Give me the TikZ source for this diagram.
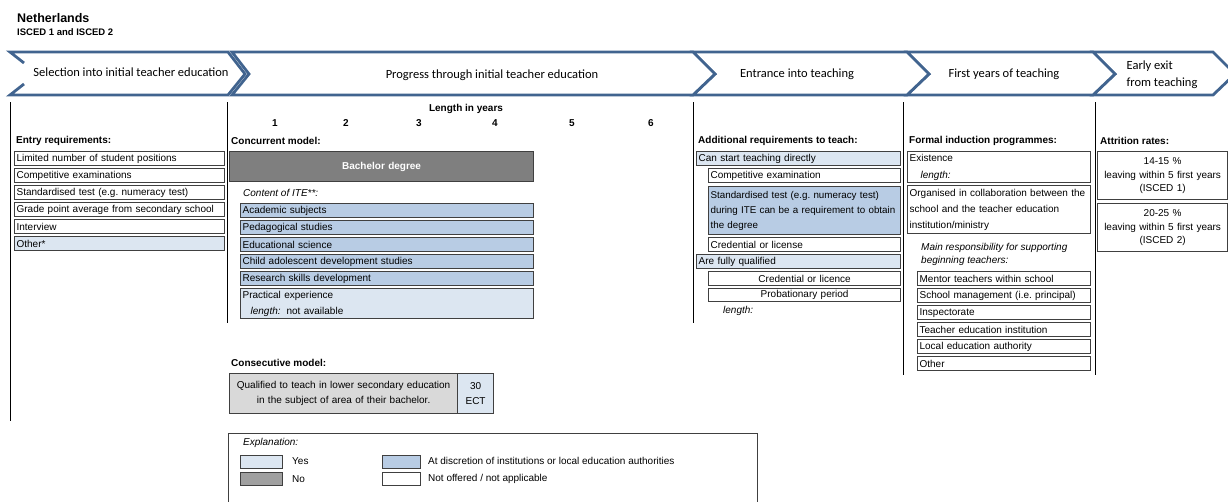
\documentclass[tikz,border=0pt]{standalone}
\usepackage{fontspec}
\setmainfont{Liberation Sans}
\newfontfamily\calfont{Carlito}
\frenchspacing
\definecolor{yesc}{HTML}{DCE6F1}
\definecolor{disc}{HTML}{B8CCE4}
\definecolor{noc}{HTML}{7F7F7F}
\definecolor{lgc}{HTML}{D9D9D9}
\definecolor{boxc}{HTML}{404040}
\definecolor{chev}{HTML}{41648F}
\definecolor{legno}{HTML}{A0A0A0}
\begin{document}
\begin{tikzpicture}[x=1pt,y=-1pt,
  bx/.style={draw=boxc, line width=1.2pt, anchor=north west, inner xsep=2pt, inner ysep=0pt,
     minimum height=14pt, align=left, font=\fontsize{10}{12}\selectfont},
  fyes/.style={fill=yesc}, fdis/.style={fill=disc}, fno/.style={fill=noc}, fwhite/.style={fill=white},
  hdr/.style={anchor=west, inner sep=0pt, font=\fontsize{10}{12}\selectfont\bfseries},
  txt/.style={anchor=west, inner sep=0pt, font=\fontsize{10}{12}\selectfont},
  itx/.style={anchor=west, inner sep=0pt, font=\fontsize{10}{12}\selectfont\itshape},
  ban/.style={inner sep=0pt, font=\fontsize{12.5}{14}\selectfont\calfont, align=center},
  chv/.style={draw=chev, line width=2.8pt, line join=miter, fill=white},
  vl/.style={draw=black, line width=1pt}]
\useasboundingbox (0,0) rectangle (1228,501);
\clip (0,0) rectangle (1228,501);

% title
\node[anchor=west, inner sep=0pt, font=\fontsize{12.5}{14}\selectfont\bfseries] (title) at (17,18) {Netherlands};
\node[anchor=west, inner sep=0pt, font=\fontsize{9.5}{12}\selectfont\bfseries] (sub) at (17,32) {ISCED 1 and ISCED 2};

% banner
\path[chv] (1093,52)--(1213,52)--(1235,74)--(1213,95)--(1093,95)--(1115,74)--cycle;
\path[chv] (907,52)--(1093,52)--(1115,74)--(1093,95)--(907,95)--(929,74)--cycle;
\path[chv] (693,52)--(907,52)--(929,74)--(907,95)--(693,95)--(715,74)--cycle;
\path[chv] (232,52)--(693,52)--(715,74)--(693,95)--(232,95)--(249,74)--cycle;
\path[chv, fill=none] (24,63)--(10,52)--(228,52)--(245,74)--(228,95)--(10,95)--(24,84);
\node[ban] (b1) at (131,72) {Selection into initial teacher education};
\node[ban] (b2) at (492,75) {Progress through initial teacher education};
\node[ban] (b3) at (797,74) {Entrance into teaching};
\node[ban] (b4) at (1004,74) {First years of teaching};
\node[ban, align=left, font=\fontsize{12.5}{17}\selectfont\calfont] (b5) at (1162,75) {Early exit\\from teaching};

% column lines
\draw[vl] (10,102) -- (10,421);
\draw[vl] (227,102) -- (227,323);
\draw[vl] (693,102) -- (693,323);
\draw[vl] (903,102) -- (903,375);
\draw[vl] (1095,102) -- (1095,375);

% entry requirements
\node[hdr] (hentry) at (16,141) {Entry requirements:};
\node[bx, fwhite, text width=206pt] (e1) at (14,151) {Limited number of student positions};
\node[bx, fwhite, text width=206pt] (e2) at (14,168) {Competitive examinations};
\node[bx, fwhite, text width=206pt] (e3) at (14,185) {Standardised test (e.g. numeracy test)};
\node[bx, fwhite, text width=206pt] (e4) at (14,202) {Grade point average from secondary school};
\node[bx, fwhite, text width=206pt] (e5) at (14,219) {Interview};
\node[bx, fyes, text width=206pt] (e6) at (14,236) {Other*};

% concurrent model
\node[hdr, anchor=center] (len) at (466,109) {Length in years};
\node[hdr, anchor=center] (n1) at (275,123) {1};
\node[hdr, anchor=center] (n2) at (346,123) {2};
\node[hdr, anchor=center] (n3) at (419,123) {3};
\node[hdr, anchor=center] (n4) at (495,123) {4};
\node[hdr, anchor=center] (n5) at (572,123) {5};
\node[hdr, anchor=center] (n6) at (651,123) {6};
\node[hdr] (hconc) at (231,141) {Concurrent model:};
\node[bx, fno, text width=300pt, minimum height=30pt, align=center, text=white, font=\fontsize{10}{12}\selectfont\bfseries] (bach) at (229,151) {Bachelor degree};
\node[itx] (cont) at (243,193) {Content of ITE**:};
\node[bx, fdis, text width=289pt] (c1) at (240,203) {Academic subjects};
\node[bx, fdis, text width=289pt] (c2) at (240,220) {Pedagogical studies};
\node[bx, fdis, text width=289pt] (c3) at (240,237) {Educational science};
\node[bx, fdis, text width=289pt] (c4) at (240,254) {Child adolescent development studies};
\node[bx, fdis, text width=289pt] (c5) at (240,271) {Research skills development};
\node[bx, fyes, text width=289pt, minimum height=30pt, font=\fontsize{10}{16}\selectfont] (c6) at (240,288) {Practical experience\\\hspace*{8pt}\textit{length:}\hspace{6pt}not available};

% consecutive model
\node[hdr] (hcons) at (231,363) {Consecutive model:};
\node[bx, fill=lgc, text width=224pt, minimum height=40pt, align=center, font=\fontsize{10}{15}\selectfont] (q1) at (229,373) {Qualified to teach in lower secondary education\\in the subject of area of their bachelor.};
\node[bx, fyes, text width=32pt, minimum height=40pt, align=center, font=\fontsize{10}{15}\selectfont] (q2) at (457,373) {30\\ECT};

% entrance into teaching
\node[hdr] (hadd) at (698,141) {Additional requirements to teach:};
\node[bx, fyes, text width=200pt] (a1) at (696,151) {Can start teaching directly};
\node[bx, fwhite, text width=188pt] (a2) at (708,168) {Competitive examination};
\node[bx, fdis, text width=188pt, minimum height=48pt, font=\fontsize{9.8}{15}\selectfont] (a3) at (708,186) {Standardised test (e.g. numeracy test)\\during ITE can be a requirement to obtain\\the degree};
\node[bx, fwhite, text width=188pt] (a4) at (708,237) {Credential or license};
\node[bx, fyes, text width=200pt] (a5) at (696,254) {Are fully qualified};
\node[bx, fwhite, text width=188pt, align=center] (a6) at (708,271) {Credential or licence};
\node[bx, fwhite, text width=188pt, align=center, minimum height=13pt] (a7) at (708,288) {Probationary period};
\node[itx] (alen) at (723,311) {length:};

% first years
\node[hdr] (hind) at (909,141) {Formal induction programmes:};
\node[bx, fwhite, text width=179pt, minimum height=31pt, font=\fontsize{10}{17}\selectfont] (f1) at (907,151) {Existence\\\hspace*{11pt}\textit{length:}};
\node[bx, fwhite, text width=179pt, minimum height=48pt, font=\fontsize{10}{16}\selectfont] (f2) at (907,185) {Organised in collaboration between the\\school and the teacher education\\institution/ministry};
\node[itx, anchor=north west, align=left, font=\fontsize{10}{13}\selectfont\itshape] (fmain) at (921,243) {Main responsibility for supporting\\beginning teachers:};
\node[bx, fwhite, text width=169pt] (m1) at (917,271) {Mentor teachers within school};
\node[bx, fwhite, text width=169pt] (m2) at (917,288) {School management (i.e. principal)};
\node[bx, fwhite, text width=169pt] (m3) at (917,305) {Inspectorate};
\node[bx, fwhite, text width=169pt] (m4) at (917,322) {Teacher education institution};
\node[bx, fwhite, text width=169pt] (m5) at (917,339) {Local education authority};
\node[bx, fwhite, text width=169pt] (m6) at (917,356) {Other};

% attrition
\node[hdr] (hatt) at (1100,141) {Attrition rates:};
\node[bx, fwhite, text width=126pt, minimum height=48pt, align=center, font=\fontsize{10}{13.5}\selectfont] (r1) at (1097,151) {14-15 \%\\leaving within 5 first years\\(ISCED 1)};
\node[bx, fwhite, text width=126pt, minimum height=48pt, align=center, font=\fontsize{10}{13.5}\selectfont] (r2) at (1097,203) {20-25 \%\\leaving within 5 first years\\(ISCED 2)};

% legend
\node[draw=boxc, line width=1pt, anchor=north west, minimum width=529pt, minimum height=70pt, inner sep=0pt] (leg) at (228,433) {};
\node[itx] (lexp) at (243,443) {Explanation:};
\node[bx, fyes, minimum width=42pt, minimum height=13pt, inner xsep=0pt] (s1) at (240,455) {};
\node[txt] (l1) at (292,461) {Yes};
\node[bx, fill=legno, minimum width=42pt, minimum height=13pt, inner xsep=0pt] (s2) at (240,472) {};
\node[txt] (l2) at (292,479) {No};
\node[bx, fdis, minimum width=38pt, minimum height=13pt, inner xsep=0pt] (s3) at (382,455) {};
\node[txt] (l3) at (428,461) {At discretion of institutions or local education authorities};
\node[bx, fwhite, minimum width=38pt, minimum height=13pt, inner xsep=0pt] (s4) at (382,472) {};
\node[txt] (l4) at (428,479) {Not offered / not applicable};
\end{tikzpicture}
\end{document}
